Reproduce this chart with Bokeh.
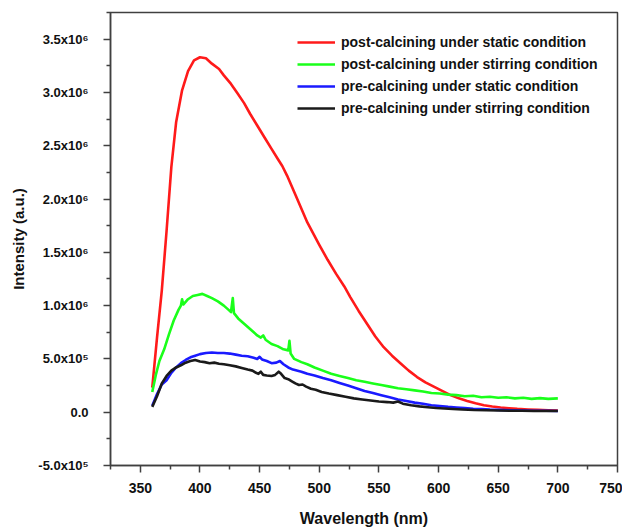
from bokeh.plotting import figure
from bokeh.models import FixedTicker, Legend, LegendItem
from bokeh.embed import file_html
from bokeh.resources import INLINE

# ---------------- data ----------------
red_wl = [360, 364, 368, 372, 376, 380, 385, 390, 395, 400, 405, 410, 416, 420, 426, 431,
          437, 442, 448, 454, 460, 465, 469, 473, 480, 490, 500, 507, 514, 521, 526, 533,
          540, 547, 554, 561, 568, 575, 582, 589, 596, 603, 610, 617, 624, 631, 638, 645,
          652, 659, 666, 675, 683, 692, 700]
red_int = [2.3e5, 7.0e5, 1.14e6, 1.70e6, 2.30e6, 2.72e6, 3.02e6, 3.20e6, 3.30e6, 3.33e6,
           3.32e6, 3.27e6, 3.22e6, 3.16e6, 3.08e6, 3.00e6, 2.90e6, 2.80e6, 2.69e6, 2.58e6,
           2.47e6, 2.38e6, 2.31e6, 2.22e6, 2.04e6, 1.78e6, 1.57e6, 1.43e6, 1.30e6, 1.18e6,
           1.08e6, 0.95e6, 0.83e6, 0.71e6, 0.61e6, 0.53e6, 0.46e6, 0.39e6, 0.33e6, 0.28e6,
           0.24e6, 0.20e6, 0.16e6, 0.13e6, 0.106e6, 0.085e6, 0.066e6, 0.054e6, 0.044e6,
           0.037e6, 0.031e6, 0.026e6, 0.022e6, 0.019e6, 0.016e6]

green_wl = [360, 363, 366, 370, 374, 378, 382, 384, 385, 386, 390, 394, 398, 402, 406, 410,
            415, 420, 424, 426, 427.5, 428.5, 432, 437, 442, 448, 451, 453, 455, 460, 465,
            470, 474, 475, 476, 479, 485, 490, 496, 503, 510, 517, 524, 531, 538, 545, 552,
            559, 566, 573, 580, 587, 594, 601, 608, 615, 622, 629, 636, 643, 650, 657, 664,
            671, 678, 685, 692, 700]
green_int = [1.9e5, 3.5e5, 4.8e5, 5.9e5, 7.3e5, 8.6e5, 9.6e5, 1.00e6, 1.06e6, 1.01e6,
             1.06e6, 1.09e6, 1.10e6, 1.11e6, 1.09e6, 1.07e6, 1.04e6, 1.00e6, 0.96e6, 0.94e6,
             1.07e6, 0.93e6, 0.88e6, 0.83e6, 0.78e6, 0.72e6, 0.70e6, 0.72e6, 0.68e6, 0.64e6,
             0.62e6, 0.59e6, 0.58e6, 0.67e6, 0.55e6, 0.50e6, 0.47e6, 0.45e6, 0.42e6, 0.39e6,
             0.36e6, 0.34e6, 0.32e6, 0.30e6, 0.285e6, 0.27e6, 0.255e6, 0.24e6, 0.225e6,
             0.215e6, 0.205e6, 0.195e6, 0.18e6, 0.175e6, 0.165e6, 0.16e6, 0.15e6, 0.155e6,
             0.14e6, 0.145e6, 0.135e6, 0.14e6, 0.13e6, 0.135e6, 0.125e6, 0.132e6, 0.125e6,
             0.13e6]

blue_wl = [360, 364, 368, 372, 376, 380, 384, 388, 392, 396, 400, 405, 410, 415, 420, 425,
           430, 435, 440, 445, 448, 450, 452, 456, 460, 464, 467, 470, 474, 478, 485, 490,
           496, 503, 510, 517, 524, 531, 538, 545, 552, 559, 566, 573, 580, 587, 594, 601,
           608, 615, 622, 629, 636, 643, 650, 660, 670, 680, 690, 700]
blue_int = [0.06e6, 0.17e6, 0.26e6, 0.30e6, 0.37e6, 0.42e6, 0.46e6, 0.49e6, 0.515e6,
            0.53e6, 0.545e6, 0.555e6, 0.56e6, 0.555e6, 0.555e6, 0.55e6, 0.54e6, 0.53e6,
            0.525e6, 0.51e6, 0.50e6, 0.52e6, 0.495e6, 0.48e6, 0.46e6, 0.465e6, 0.48e6,
            0.45e6, 0.42e6, 0.40e6, 0.38e6, 0.36e6, 0.345e6, 0.32e6, 0.30e6, 0.275e6,
            0.25e6, 0.225e6, 0.20e6, 0.18e6, 0.16e6, 0.14e6, 0.12e6, 0.105e6, 0.09e6,
            0.08e6, 0.066e6, 0.058e6, 0.05e6, 0.044e6, 0.038e6, 0.033e6, 0.03e6, 0.025e6,
            0.022e6, 0.019e6, 0.016e6, 0.014e6, 0.013e6, 0.012e6]

black_wl = [360, 364, 368, 372, 376, 380, 384, 388, 392, 396, 400, 404, 408, 412, 416, 420,
            425, 430, 435, 440, 444, 447, 449, 451, 453, 456, 460, 463, 466, 468, 471, 474,
            477, 480, 483, 486, 489, 493, 497, 502, 508, 515, 522, 529, 536, 543, 550, 557,
            562, 566, 570, 577, 584, 591, 598, 605, 612, 620, 630, 640, 650, 660, 670, 680,
            690, 700]
black_int = [0.05e6, 0.15e6, 0.27e6, 0.34e6, 0.39e6, 0.42e6, 0.44e6, 0.465e6, 0.48e6,
             0.49e6, 0.475e6, 0.47e6, 0.46e6, 0.465e6, 0.455e6, 0.45e6, 0.44e6, 0.43e6,
             0.415e6, 0.40e6, 0.39e6, 0.37e6, 0.36e6, 0.38e6, 0.35e6, 0.345e6, 0.34e6,
             0.35e6, 0.38e6, 0.36e6, 0.32e6, 0.31e6, 0.29e6, 0.27e6, 0.255e6, 0.26e6,
             0.24e6, 0.22e6, 0.21e6, 0.19e6, 0.175e6, 0.16e6, 0.145e6, 0.13e6, 0.12e6,
             0.11e6, 0.10e6, 0.095e6, 0.09e6, 0.10e6, 0.08e6, 0.065e6, 0.055e6, 0.047e6,
             0.04e6, 0.035e6, 0.03e6, 0.025e6, 0.02e6, 0.018e6, 0.016e6, 0.014e6, 0.013e6,
             0.012e6, 0.012e6, 0.011e6]

series_labels = ["post-calcining under static condition",
                 "post-calcining under stirring condition",
                 "pre-calcining under static condition",
                 "pre-calcining under stirring condition"]
series_colors = ["#ff1a1a", "#1aff1a", "#1a1aff", "#1a1a1a"]

x_ticks = [350, 400, 450, 500, 550, 600, 650, 700, 750]
x_minor = [325, 375, 425, 475, 525, 575, 625, 675, 725]
y_ticks = [-5e5, 0, 5e5, 1e6, 1.5e6, 2e6, 2.5e6, 3e6, 3.5e6]
y_tick_labels = ["-5.0x10\u2075", "0.0", "5.0x10\u2075", "1.0x10\u2076", "1.5x10\u2076",
                 "2.0x10\u2076", "2.5x10\u2076", "3.0x10\u2076", "3.5x10\u2076"]
y_minor = [-2.5e5, 2.5e5, 7.5e5, 1.25e6, 1.75e6, 2.25e6, 2.75e6, 3.25e6, 3.75e6]

FONT = "Liberation Sans"

p = figure(frame_width=507, frame_height=453,
           min_border_left=110, min_border_right=5, min_border_top=12, min_border_bottom=58,
           x_range=(325, 750), y_range=(-5e5, 3.75e6),
           output_backend="svg", toolbar_location=None)

p.xgrid.visible = False
p.ygrid.visible = False
p.outline_line_color = "#404040"
p.outline_line_width = 1.5
p.outline_line_alpha = 1.0

renderers = []
for wl, inten, col in zip([red_wl, green_wl, blue_wl, black_wl],
                          [red_int, green_int, blue_int, black_int], series_colors):
    r = p.line(wl, inten, line_color=col, line_width=2.6, line_join="round")
    renderers.append(r)

legend = Legend(items=[LegendItem(label=lab, renderers=[r])
                       for lab, r in zip(series_labels, renderers)],
                location=(182, 343))
legend.label_text_font = FONT
legend.label_text_font_style = "bold"
legend.label_text_font_size = "14px"
legend.label_text_color = "#111111"
legend.glyph_width = 38
legend.glyph_height = 18
legend.label_height = 18
legend.spacing = 4
legend.padding = 5
legend.label_standoff = 6
legend.border_line_alpha = 0
legend.background_fill_alpha = 0
p.add_layout(legend, "center")

# axes
p.xaxis.ticker = FixedTicker(ticks=x_ticks, minor_ticks=x_minor)
p.yaxis.ticker = FixedTicker(ticks=y_ticks, minor_ticks=y_minor)
p.yaxis.major_label_overrides = {v: s for v, s in zip(y_ticks, y_tick_labels)}

for ax in (p.xaxis[0], p.yaxis[0]):
    ax.axis_line_color = "#404040"
    ax.axis_line_width = 1.5
    ax.major_tick_line_color = "#404040"
    ax.minor_tick_line_color = "#404040"
    ax.major_tick_line_width = 1.5
    ax.minor_tick_line_width = 1.5
    ax.major_tick_out = 7
    ax.major_tick_in = 0
    ax.minor_tick_out = 4
    ax.minor_tick_in = 0
    ax.major_label_text_font = FONT
    ax.major_label_text_font_style = "bold"
    ax.major_label_text_color = "#111111"
    ax.axis_label_text_font = FONT
    ax.axis_label_text_font_style = "bold"
    ax.axis_label_text_color = "#111111"

p.xaxis.major_label_text_font_size = "14px"
p.yaxis.major_label_text_font_size = "13px"
p.xaxis.axis_label = "Wavelength (nm)"
p.xaxis.axis_label_text_font_size = "16px"
p.xaxis.major_label_standoff = 10
p.xaxis.axis_label_standoff = 14
p.yaxis.axis_label = "Intensity (a.u.)"
p.yaxis.axis_label_text_font_size = "15px"
p.yaxis.major_label_standoff = 15
p.yaxis.axis_label_standoff = 8

open("out.html", "w").write(file_html(p, INLINE))
